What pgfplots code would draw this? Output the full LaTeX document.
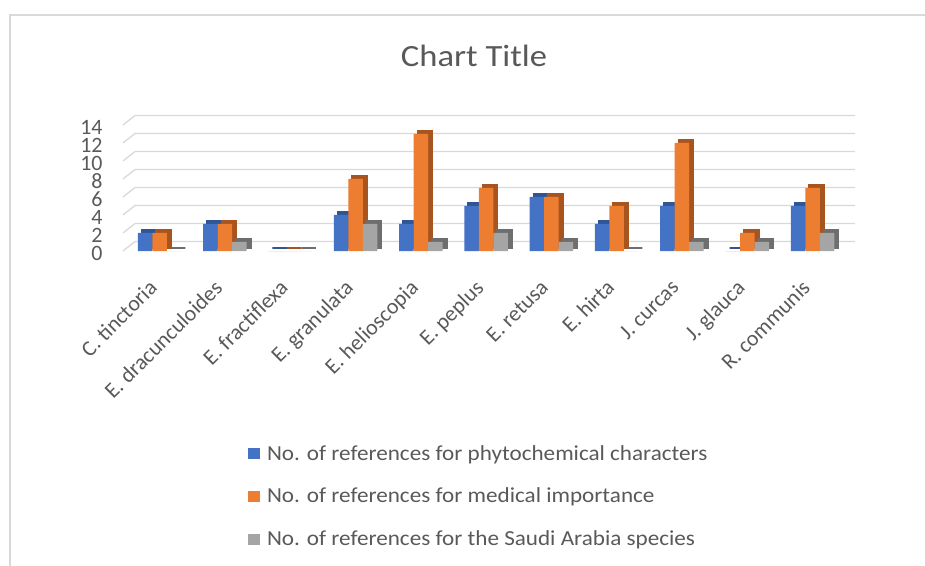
\documentclass[border=0pt]{standalone}
\usepackage{pgfplots}
\usepackage{pgfplotstable}
\pgfplotsset{compat=1.18}
\usepackage{fontspec}
\setmainfont{Carlito}
\newfontfamily\titlefont{Carlito}[FakeStretch=1.12]
\newfontfamily\legfont{Carlito}[FakeStretch=1.08]
\definecolor{cblue}{HTML}{4472C4}
\definecolor{corange}{HTML}{ED7D31}
\definecolor{cgray}{HTML}{A5A5A5}
\definecolor{cblueD}{HTML}{2F5597}
\definecolor{corangeD}{HTML}{A8541E}
\definecolor{cgrayD}{HTML}{6E6E6E}
\definecolor{gridc}{HTML}{D9D9D9}
\definecolor{txt}{HTML}{595959}
\pgfplotstableread{
x a b c
0 2 2 0
1 3 3 1
2 0 0 0
3 4 8 3
4 3 13 1
5 5 7 2
6 6 6 1
7 3 5 0
8 5 12 1
9 0 2 1
10 5 7 2
}\datatable
\begin{document}
\begin{tikzpicture}
\useasboundingbox (0bp,0bp) rectangle (925bp,566bp);
\draw[gridc, line width=1.5bp] (10bp,0bp) -- (10bp,551bp) -- (925bp,551bp);
\node[anchor=base, text=txt, font=\titlefont\fontsize{31}{36}\selectfont, inner sep=0pt] at (474bp,499bp) {Chart Title};
\begin{axis}[
  at={(127bp,315bp)}, anchor=south west,
  scale only axis, width=728bp, height=126bp,
  xmin=-0.5, xmax=10.65, ymin=0, ymax=14,
  ybar, bar width=0.222,
  clip=false,
  axis line style={draw=none},
  major tick length=0pt,
  ytick={0,2,...,14},
  xtick={0,...,10},
  xticklabels={C. tinctoria, E. dracunculoides, E. fractiflexa, E. granulata, E. helioscopia, E. peplus, E. retusa, E. hirta, J. curcas, J. glauca, R. communis},
  xticklabel style={xshift=-12bp, yshift=-26bp, rotate=45, anchor=north east, font=\fontsize{22}{26}\selectfont, text=txt, inner sep=1bp},
  yticklabel style={font=\fontsize{22}{26}\selectfont, text=txt, xshift=-21bp, yshift=-2.5bp},
  /pgf/number format/assume math mode=true,
  legend style={at={(rel axis cs:0.166,-1.524)}, anchor=north west, draw=none, fill=none,
    font=\legfont\fontsize{21.5}{25}\selectfont, text=txt, row sep=22.5bp, column sep=5bp, inner sep=0pt,
    nodes={inner sep=2bp, anchor=west}},
  legend cell align=left,
  legend image code/.code={\fill[#1] (0bp,-5.5bp) rectangle (12bp,5.5bp);},
]
\foreach \v in {0,2,...,14}{
  \edef\tmp{\noexpand\draw[gridc, line width=1.3bp] ([xshift=-4bp]axis cs:-0.5,\v) -- ([xshift=8bp,yshift=9.5bp]axis cs:-0.5,\v) -- ([yshift=9.5bp]axis cs:10.65,\v);}
  \tmp
}
\addplot[fill=cblueD, draw=cblueD, line width=2bp, bar shift=-0.222, xshift=4bp, yshift=3bp, forget plot] table[x=x,y=a]{\datatable};
\addplot[fill=cblue, draw=none, bar shift=-0.222] table[x=x,y=a]{\datatable};
\addlegendentry{No. of references for phytochemical characters}
\addplot[fill=corangeD, draw=corangeD, line width=2bp, bar shift=0, xshift=4bp, yshift=3bp, forget plot] table[x=x,y=b]{\datatable};
\addplot[fill=corange, draw=none, bar shift=0] table[x=x,y=b]{\datatable};
\addlegendentry{No. of references for medical importance}
\addplot[fill=cgrayD, draw=cgrayD, line width=2bp, bar shift=0.222, xshift=4bp, yshift=3bp, forget plot] table[x=x,y=c]{\datatable};
\addplot[fill=cgray, draw=none, bar shift=0.222] table[x=x,y=c]{\datatable};
\addlegendentry{No. of references for the Saudi Arabia species}
\end{axis}
\end{tikzpicture}
\end{document}
